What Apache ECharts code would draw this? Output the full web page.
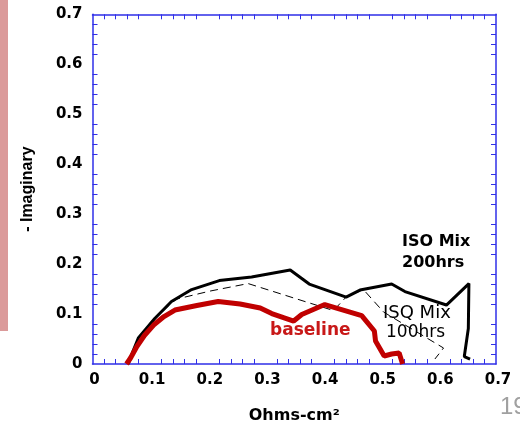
<!DOCTYPE html>
<html><head><meta charset="utf-8">
<script src="https://cdn.jsdelivr.net/npm/echarts@6/dist/echarts.min.js"></script>
<style>html,body{margin:0;padding:0;background:#fff}#c{width:520px;height:429px}</style>
</head><body><div id="c"></div>
<script>
// x: Ohms-cm², y: -Imaginary
const baseline = [[0.059,0],[0.066,0.012],[0.077,0.035],[0.090,0.057],[0.106,0.078],[0.124,0.095],[0.143,0.108],[0.181,0.117],[0.218,0.125],[0.256,0.120],[0.291,0.112],[0.311,0.101],[0.349,0.086],[0.363,0.099],[0.403,0.119],[0.467,0.097],[0.489,0.066],[0.491,0.046],[0.506,0.016],[0.519,0.020],[0.532,0.022],[0.538,0]];
const iso200 = [[0.062,0],[0.070,0.025],[0.0795,0.052],[0.108,0.091],[0.137,0.125],[0.172,0.149],[0.220,0.167],[0.276,0.174],[0.343,0.188],[0.376,0.160],[0.440,0.134],[0.464,0.148],[0.519,0.160],[0.542,0.145],[0.614,0.118],[0.653,0.161],[0.652,0.071],[0.645,0.015],[0.655,0.010]];
const iso100 = [[0.062,0],[0.0795,0.052],[0.108,0.090],[0.137,0.122],[0.146,0.130],[0.204,0.146],[0.270,0.161],[0.418,0.107],[0.440,0.134],[0.470,0.149],[0.505,0.104],[0.609,0.032],[0.594,0.010]];
const tickValues = [0,0.1,0.2,0.3,0.4,0.5,0.6,0.7];
const xName = 'Ohms-cm²';
const yName = '- Imaginary';
const labels = {iso200:['ISO Mix','200hrs'], iso100:['ISQ Mix','100hrs'], baseline:'baseline', page:'19'};

const AX = '#2f2fe8';
const F = 'DejaVu Sans';
function axisBase(showLabel){
  return {
    type:'value', min:0, max:0.7, interval:0.1,
    axisLine:{show:true, onZero:false, lineStyle:{color:AX, width:1.5}},
    axisTick:{show:false, inside:true},
    minorTick:{show:true, splitNumber:5, length:5, lineStyle:{color:AX, width:1}},
    splitLine:{show:false},
    axisLabel:{show:showLabel, color:'#000', fontFamily:F, fontWeight:'bold', fontSize:15,
      formatter:v=>{const t=tickValues.find(x=>Math.abs(x-v)<1e-9);return t===undefined?'':String(t===0?'0':t);}}
  };
}
const chart = echarts.init(document.getElementById('c'), null, {renderer:'canvas'});
const xb = axisBase(true);
xb.position='bottom'; xb.name=xName; xb.nameLocation='middle'; xb.nameGap=44;
xb.nameTextStyle={color:'#000', fontFamily:F, fontWeight:'bold', fontSize:16};
xb.axisLabel.margin=9; xb.axisLabel.padding=[0,0,0,4];
const xt = axisBase(false); xt.position='top';
const yl = axisBase(true);
yl.position='left'; yl.name=yName; yl.nameLocation='middle'; yl.nameGap=57; yl.nameRotate=90;
yl.nameTextStyle={color:'#000', fontFamily:'Liberation Sans', fontWeight:'bold', fontSize:16};
yl.axisLabel.margin=10;
const yr = axisBase(false); yr.position='right';

chart.setOption({
  animation:false,
  backgroundColor:'#fff',
  grid:{left:92.5, right:24, top:14.3, bottom:59.7, show:false},
  xAxis:[xb, xt],
  yAxis:[yl, yr],
  series:[
    {type:'line', data:iso100, xAxisIndex:0, yAxisIndex:0, symbol:'none', z:3,
      lineStyle:{color:'#000', width:1, type:[8,5]}},
    {type:'line', data:iso200, xAxisIndex:0, yAxisIndex:0, symbol:'none', z:4,
      lineStyle:{color:'#000', width:3}},
    {type:'line', data:baseline, xAxisIndex:0, yAxisIndex:0, symbol:'none', z:5,
      lineStyle:{color:'#c00000', width:5}}
  ],
  graphic:[
    {type:'rect', left:0, top:0, shape:{x:0,y:0,width:8,height:331}, style:{fill:'#db9a9a'}, z:0},
    {type:'text', x:402, y:242, z:1, style:{text:labels.iso200[0], font:'bold 16px "DejaVu Sans"', fill:'#000', textVerticalAlign:'middle'}},
    {type:'text', x:402, y:263, z:1, style:{text:labels.iso200[1], font:'bold 16px "DejaVu Sans"', fill:'#000', textVerticalAlign:'middle'}},
    {type:'text', x:383, y:313, z:1, style:{text:labels.iso100[0], font:'18px "DejaVu Sans"', fill:'#000', textVerticalAlign:'middle'}},
    {type:'text', x:386, y:333, z:1, style:{text:labels.iso100[1], font:'17px "DejaVu Sans"', fill:'#000', textVerticalAlign:'middle'}},
    {type:'text', x:270, y:331, z:1, style:{text:labels.baseline, font:'bold 17px "DejaVu Sans"', fill:'#c81818', textVerticalAlign:'middle'}},
    {type:'text', x:500, y:407, z:1, style:{text:labels.page, font:'24px "Liberation Sans"', fill:'#a0a0a0', textVerticalAlign:'middle'}}
  ]
});
</script></body></html>
